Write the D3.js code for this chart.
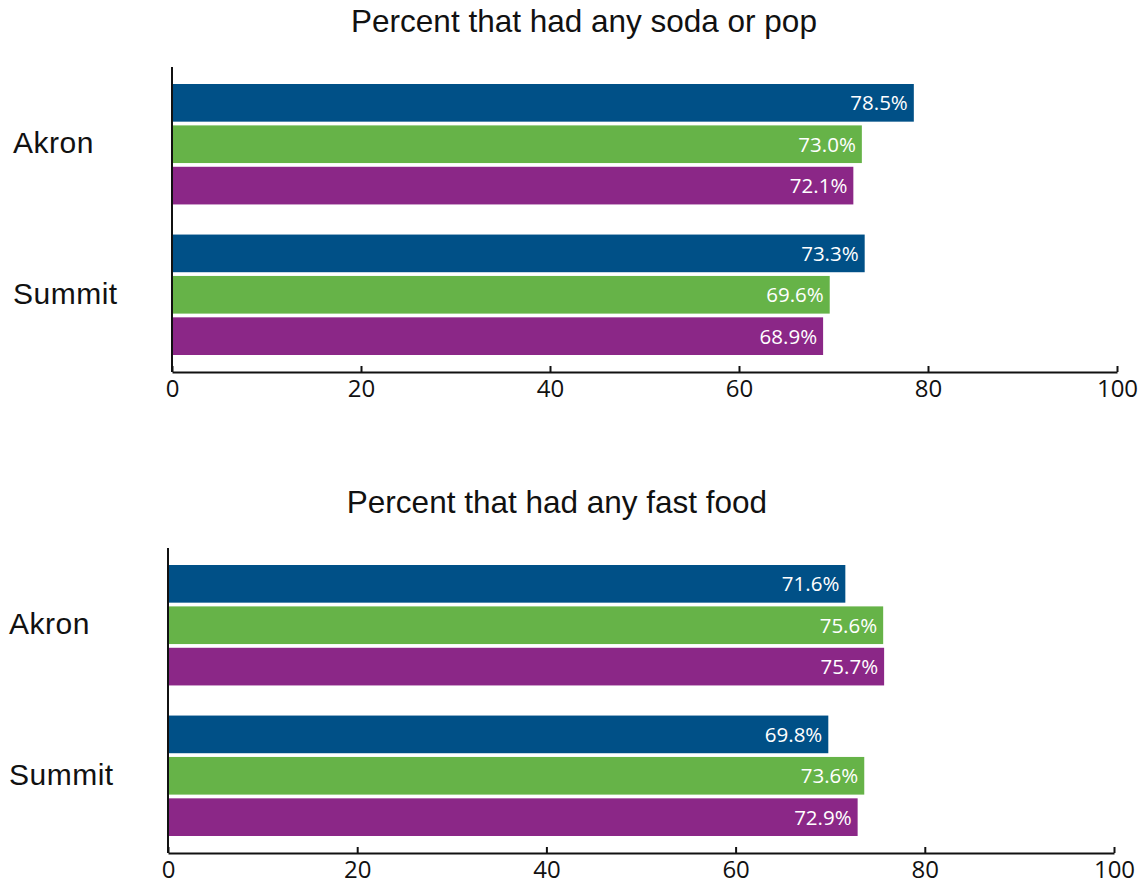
<!DOCTYPE html>
<html>
<head>
<meta charset="utf-8">
<script src="https://cdn.jsdelivr.net/npm/d3@7"></script>
<style>
  body { margin: 0; background: #fff; }
  svg { display: block; }
</style>
</head>
<body>
<svg id="chart" width="1144" height="884"></svg>
<script>
const categories = ["Akron", "Summit"];
const seriesNames = ["Series 1", "Series 2", "Series 3"];
const colors = ["#005087", "#66b348", "#8b2787"];
const titles = ["Percent that had any soda or pop", "Percent that had any fast food"];
const sodaValues = [[78.5, 73.0, 72.1], [73.3, 69.6, 68.9]];
const fastFoodValues = [[71.6, 75.6, 75.7], [69.8, 73.6, 72.9]];
const tickValues = [0, 20, 40, 60, 80, 100];

const svg = d3.select("#chart");

function panel(cfg) {
  const g = svg.append("g");
  const x = d3.scaleLinear().domain([0, 100]).range([cfg.x0, cfg.x1]);
  const y0 = d3.scaleBand().domain(categories).range([cfg.yTop, cfg.yBot]).paddingInner(0.2).paddingOuter(0);
  const y1 = d3.scaleBand().domain(seriesNames).range([0, y0.bandwidth()]).paddingInner(0.09);

  g.append("text")
    .attr("x", cfg.titleX).attr("y", cfg.titleY)
    .attr("text-anchor", "middle")
    .style("font-family", "'Liberation Sans', Arial, sans-serif")
    .style("font-size", "31.5px")
    .attr("fill", "#111")
    .text(cfg.title);

  categories.forEach((cat, ci) => {
    const grp = g.append("g").attr("transform", `translate(0,${y0(cat)})`);
    cfg.values[ci].forEach((v, si) => {
      grp.append("rect")
        .attr("x", x(0)).attr("y", y1(seriesNames[si]))
        .attr("width", x(v) - x(0)).attr("height", y1.bandwidth())
        .attr("fill", colors[si]);
      grp.append("text")
        .attr("x", x(v) - 6)
        .attr("y", y1(seriesNames[si]) + y1.bandwidth() / 2 + 7.5)
        .attr("text-anchor", "end")
        .style("font-family", "'Open Sans', sans-serif")
        .style("font-size", "20.5px")
        .attr("fill", "#fff")
        .text(v.toFixed(1) + "%");
    });
    g.append("text")
      .attr("x", cfg.catX)
      .attr("y", y0(cat) + y0.bandwidth() / 2 + 9)
      .style("font-family", "'Liberation Sans', Arial, sans-serif")
      .style("font-size", "30px")
      .style("letter-spacing", "0.5px")
      .attr("fill", "#111")
      .text(cat);
  });

  // y axis line
  g.append("line")
    .attr("x1", x(0)).attr("x2", x(0))
    .attr("y1", cfg.axisTop).attr("y2", cfg.axisY)
    .attr("stroke", "#111").attr("stroke-width", 2);

  const ax = g.append("g")
    .attr("transform", `translate(0,${cfg.axisY})`)
    .call(d3.axisBottom(x).tickValues(tickValues).tickSize(-6).tickSizeOuter(0));
  ax.select(".domain").attr("stroke", "#111").attr("stroke-width", 2);
  ax.selectAll(".tick line").attr("stroke", "#111").attr("stroke-width", 2);
  ax.selectAll(".tick text")
    .style("font-family", "'Open Sans', sans-serif")
    .style("font-size", "24px")
    .attr("fill", "#111")
    .attr("y", 25)
    .attr("dy", 0);
}

panel({
  title: titles[0], titleX: 584, titleY: 32,
  values: sodaValues,
  x0: 172, x1: 1117,
  yTop: 84, yBot: 355,
  axisTop: 67, axisY: 372,
  catX: 13
});

panel({
  title: titles[1], titleX: 557, titleY: 513,
  values: fastFoodValues,
  x0: 168, x1: 1114,
  yTop: 565, yBot: 836,
  axisTop: 548, axisY: 853,
  catX: 9
});
</script>
</body>
</html>
